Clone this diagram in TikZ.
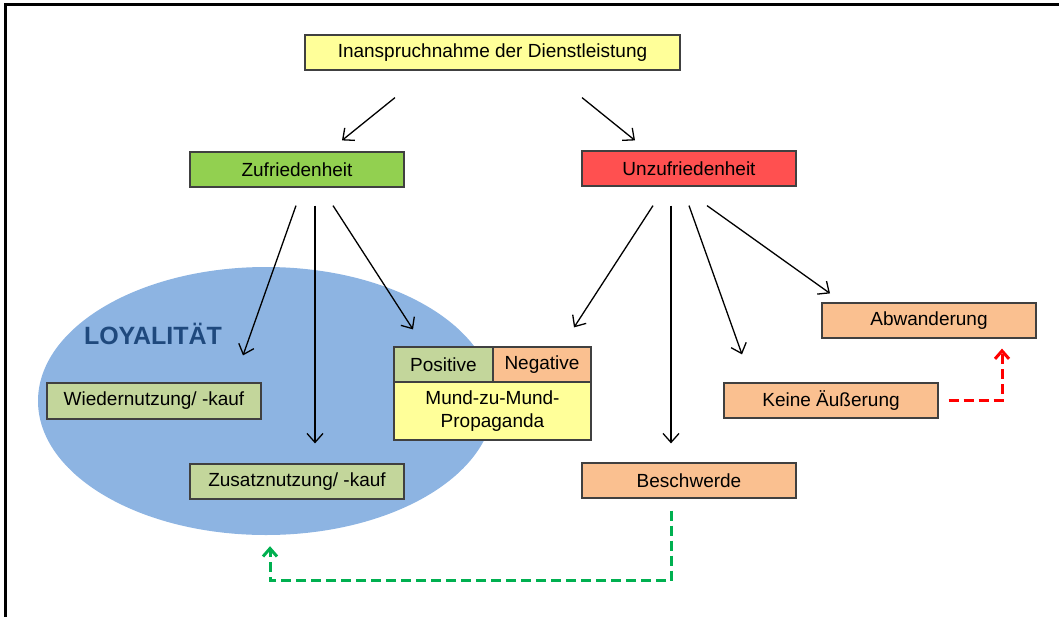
\documentclass[tikz,border=0pt]{standalone}
\usepackage{fontspec}
\setmainfont{Liberation Sans}
\usetikzlibrary{arrows.meta,calc,shapes.geometric}
\definecolor{boxgelb}{RGB}{255,255,153}
\definecolor{boxgruen}{RGB}{146,208,80}
\definecolor{boxrot}{RGB}{255,80,80}
\definecolor{boxoliv}{RGB}{195,214,155}
\definecolor{boxorange}{RGB}{250,192,144}
\definecolor{loyblau}{RGB}{141,180,226}
\definecolor{loytext}{RGB}{31,73,125}
\definecolor{pfeilgruen}{RGB}{0,176,80}
\tikzset{
  kasten/.style={draw=black!75, line width=1.2, inner sep=0pt, minimum height=35,
    align=center, font=\fontsize{19}{23}\selectfont},
  pfeil/.style={line width=1.3, -{Straight Barb[length=9,width=16]}},
  rueck/.style={line width=3, dash pattern=on 10 off 5, -{Straight Barb[length=8,width=14]}}
}
\begin{document}
\begin{tikzpicture}[x=1pt, y=-1pt]
    \useasboundingbox (0,0) rectangle (1059,616);
    % Rahmen
    \draw[line width=3] (5,4) rectangle (1090,650);
    % Loyalitaet (Ellipse)
    \node[ellipse, fill=loyblau, minimum width=456, minimum height=268, inner sep=0pt] (loy) at (266,401) {};
    \node[font=\fontsize{25}{29}\selectfont\bfseries, text=loytext] (loytxt) at (153,334) {LOYALITÄT};
    % Kaesten
    \node[kasten, fill=boxgelb, minimum width=375] (top) at (492.5,52.5) {Inanspruchnahme der Dienstleistung};
    \node[kasten, fill=boxgruen, minimum width=214] (zuf) at (297,169.5) {Zufriedenheit};
    \node[kasten, fill=boxrot, minimum width=214] (unz) at (689,168.5) {Unzufriedenheit};
    \node[kasten, fill=boxoliv, minimum width=214, minimum height=36] (wied) at (154,401) {Wiedernutzung/ -kauf};
    \node[kasten, fill=boxoliv, minimum width=214] (zus) at (297,481.5) {Zusatznutzung/ -kauf};
    \node[kasten, fill=boxoliv, minimum width=99] (pos) at (443.5,364.5) {Positive};
    \node[kasten, fill=boxorange, minimum width=98] (neg) at (542,364.5) {Negative};
    \node[kasten, fill=boxgelb, minimum width=197, minimum height=58] (mund) at (492.5,411) {Mund-zu-Mund-\\Propaganda};
    \node[kasten, fill=boxorange, minimum width=214] (besch) at (689,480.5) {Beschwerde};
    \node[kasten, fill=boxorange, minimum width=214] (keine) at (831,400.5) {Keine Äußerung};
    \node[kasten, fill=boxorange, minimum width=214] (abw) at (929,320.5) {Abwanderung};
    % Pfeile
    \draw[pfeil] ($(top.south)+(-97.5,27)$) -- ($(zuf.north)+(45,-11)$);
    \draw[pfeil] ($(top.south)+(89.5,27)$) -- ($(unz.north)+(-54,-10)$);
    \draw[pfeil] ($(zuf.south)+(-1,18)$) -- ($(wied.north)+(89,-27)$);
    \draw[pfeil] ($(zuf.south)+(18,18)$) -- ($(zus.north)+(18,-20)$);
    \draw[pfeil] ($(zuf.south)+(36,18)$) -- ($(pos.north)+(-30.5,-17)$);
    \draw[pfeil] ($(unz.south)+(-36,19)$) -- ($(neg.north)+(32,-19)$);
    \draw[pfeil] ($(unz.south)+(-18,19)$) -- ($(besch.north)+(-18,-19)$);
    \draw[pfeil] ($(unz.south)+(0,19)$) -- ($(keine.north)+(-89,-28)$);
    \draw[pfeil] ($(unz.south)+(18,19)$) -- ($(abw.north)+(-99,-9)$);
    % Rueckkopplung (gestrichelt)
    \draw[rueck, red] ($(keine.east)+(10,0)$) -| ($(abw.south)+(73,10)$);
    \draw[rueck, pfeilgruen] ($(besch.south)+(-18,12)$) -- ++(0,70) -| ($(loy.south)+(4,11)$);
\end{tikzpicture}
\end{document}
